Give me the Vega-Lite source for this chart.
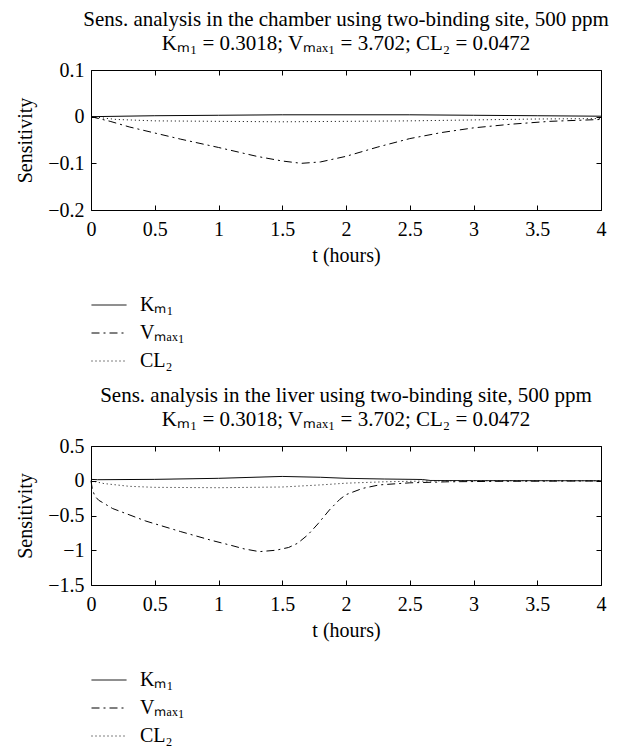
{
  "$schema": "https://vega.github.io/schema/vega-lite/v6.json",
  "padding": {"left": 15, "top": 8, "right": 2, "bottom": 0},
  "background": "white",
  "config": {
    "font": "Liberation Serif",
    "view": {"stroke": "black", "strokeWidth": 1},
    "axis": {"grid": false, "domain": false, "tickColor": "black", "tickSize": -5, "tickWidth": 1, "labelFlush": false, "format": "~g",
      "labelFont": "Liberation Serif", "labelFontSize": 20, "labelColor": "black",
      "titleFont": "Liberation Serif", "titleFontSize": 20, "titleFontWeight": "normal", "titleColor": "black"},
    "title": {"font": "Liberation Serif", "fontSize": 21, "fontWeight": "normal", "color": "black",
      "subtitleFont": "Liberation Serif", "subtitleFontSize": 21, "subtitleColor": "black", "anchor": "middle", "offset": 6, "subtitlePadding": 3},
    "legend": {"symbolType": "stroke", "symbolSize": 1225, "symbolStrokeWidth": 1, "symbolStrokeColor": "black",
      "labelFont": "Liberation Serif", "labelFontSize": 20, "labelColor": "black", "labelOffset": 13, "rowPadding": -1, "title": null,
      "orient": "bottom", "direction": "vertical", "offset": 22}
  },
  "datasets": {
    "chamber": [
      {"p": "Kₘ₁", "t": 0, "s": 0}, {"p": "Kₘ₁", "t": 0.5, "s": 0.002}, {"p": "Kₘ₁", "t": 1, "s": 0.003},
      {"p": "Kₘ₁", "t": 1.5, "s": 0.004}, {"p": "Kₘ₁", "t": 2, "s": 0.004}, {"p": "Kₘ₁", "t": 2.5, "s": 0.004},
      {"p": "Kₘ₁", "t": 3, "s": 0.003}, {"p": "Kₘ₁", "t": 3.5, "s": 0.002}, {"p": "Kₘ₁", "t": 4, "s": 0.001},
      {"p": "Vₘₐₓ₁", "t": 0, "s": 0}, {"p": "Vₘₐₓ₁", "t": 0.15, "s": -0.01}, {"p": "Vₘₐₓ₁", "t": 0.3, "s": -0.022},
      {"p": "Vₘₐₓ₁", "t": 0.5, "s": -0.035}, {"p": "Vₘₐₓ₁", "t": 0.7, "s": -0.048}, {"p": "Vₘₐₓ₁", "t": 1.0, "s": -0.066},
      {"p": "Vₘₐₓ₁", "t": 1.3, "s": -0.085}, {"p": "Vₘₐₓ₁", "t": 1.5, "s": -0.095}, {"p": "Vₘₐₓ₁", "t": 1.65, "s": -0.1},
      {"p": "Vₘₐₓ₁", "t": 1.8, "s": -0.097}, {"p": "Vₘₐₓ₁", "t": 2.0, "s": -0.085}, {"p": "Vₘₐₓ₁", "t": 2.25, "s": -0.065},
      {"p": "Vₘₐₓ₁", "t": 2.5, "s": -0.047}, {"p": "Vₘₐₓ₁", "t": 2.75, "s": -0.034}, {"p": "Vₘₐₓ₁", "t": 3.0, "s": -0.024},
      {"p": "Vₘₐₓ₁", "t": 3.3, "s": -0.016}, {"p": "Vₘₐₓ₁", "t": 3.6, "s": -0.01}, {"p": "Vₘₐₓ₁", "t": 4.0, "s": -0.006},
      {"p": "CL₂", "t": 0, "s": 0}, {"p": "CL₂", "t": 0.2, "s": -0.006}, {"p": "CL₂", "t": 0.5, "s": -0.009},
      {"p": "CL₂", "t": 1, "s": -0.01}, {"p": "CL₂", "t": 1.5, "s": -0.011}, {"p": "CL₂", "t": 2, "s": -0.01},
      {"p": "CL₂", "t": 2.5, "s": -0.009}, {"p": "CL₂", "t": 3, "s": -0.007}, {"p": "CL₂", "t": 3.5, "s": -0.005},
      {"p": "CL₂", "t": 4, "s": -0.004}
    ],
    "liver": [
      {"p": "Kₘ₁", "t": 0, "s": 0.02}, {"p": "Kₘ₁", "t": 0.05, "s": 0.015}, {"p": "Kₘ₁", "t": 0.5, "s": 0.02},
      {"p": "Kₘ₁", "t": 1.0, "s": 0.035}, {"p": "Kₘ₁", "t": 1.5, "s": 0.062}, {"p": "Kₘ₁", "t": 1.8, "s": 0.05},
      {"p": "Kₘ₁", "t": 2.0, "s": 0.035}, {"p": "Kₘ₁", "t": 2.3, "s": 0.025}, {"p": "Kₘ₁", "t": 2.6, "s": 0.018},
      {"p": "Kₘ₁", "t": 2.66, "s": 0.004}, {"p": "Kₘ₁", "t": 3, "s": 0.002}, {"p": "Kₘ₁", "t": 4, "s": 0},
      {"p": "Vₘₐₓ₁", "t": 0, "s": 0}, {"p": "Vₘₐₓ₁", "t": 0.01, "s": -0.12}, {"p": "Vₘₐₓ₁", "t": 0.03, "s": -0.22},
      {"p": "Vₘₐₓ₁", "t": 0.06, "s": -0.28}, {"p": "Vₘₐₓ₁", "t": 0.17, "s": -0.4}, {"p": "Vₘₐₓ₁", "t": 0.43, "s": -0.58},
      {"p": "Vₘₐₓ₁", "t": 0.7, "s": -0.73}, {"p": "Vₘₐₓ₁", "t": 0.95, "s": -0.86}, {"p": "Vₘₐₓ₁", "t": 1.1, "s": -0.93},
      {"p": "Vₘₐₓ₁", "t": 1.2, "s": -0.98}, {"p": "Vₘₐₓ₁", "t": 1.32, "s": -1.02}, {"p": "Vₘₐₓ₁", "t": 1.45, "s": -1.0},
      {"p": "Vₘₐₓ₁", "t": 1.55, "s": -0.96}, {"p": "Vₘₐₓ₁", "t": 1.62, "s": -0.9}, {"p": "Vₘₐₓ₁", "t": 1.7, "s": -0.78},
      {"p": "Vₘₐₓ₁", "t": 1.78, "s": -0.62}, {"p": "Vₘₐₓ₁", "t": 1.87, "s": -0.42}, {"p": "Vₘₐₓ₁", "t": 1.95, "s": -0.27},
      {"p": "Vₘₐₓ₁", "t": 2.0, "s": -0.2}, {"p": "Vₘₐₓ₁", "t": 2.13, "s": -0.11}, {"p": "Vₘₐₓ₁", "t": 2.26, "s": -0.06},
      {"p": "Vₘₐₓ₁", "t": 2.5, "s": -0.03}, {"p": "Vₘₐₓ₁", "t": 2.8, "s": -0.015}, {"p": "Vₘₐₓ₁", "t": 3.2, "s": -0.008},
      {"p": "Vₘₐₓ₁", "t": 4, "s": -0.003},
      {"p": "CL₂", "t": 0, "s": 0}, {"p": "CL₂", "t": 0.1, "s": -0.04}, {"p": "CL₂", "t": 0.3, "s": -0.08},
      {"p": "CL₂", "t": 0.5, "s": -0.095}, {"p": "CL₂", "t": 1.0, "s": -0.1}, {"p": "CL₂", "t": 1.5, "s": -0.09},
      {"p": "CL₂", "t": 1.8, "s": -0.06}, {"p": "CL₂", "t": 2.0, "s": -0.035}, {"p": "CL₂", "t": 2.3, "s": -0.015},
      {"p": "CL₂", "t": 2.6, "s": -0.005}, {"p": "CL₂", "t": 3, "s": 0}, {"p": "CL₂", "t": 4, "s": 0}
    ]
  },
  "spacing": 12,
  "resolve": {"scale": {"strokeDash": "independent"}, "legend": {"strokeDash": "independent"}},
  "vconcat": [
    {
      "width": 510, "height": 140,
      "title": {"text": "Sens. analysis in the chamber using two-binding site, 500 ppm", "subtitle": "Kₘ₁ = 0.3018; Vₘₐₓ₁ = 3.702; CL₂ = 0.0472"},
      "data": {"name": "chamber"},
      "layer": [
        {"mark": {"type": "line", "color": "black", "strokeWidth": 1},
          "encoding": {
            "x": {"field": "t", "type": "quantitative", "scale": {"domain": [0, 4], "nice": false},
              "axis": {"orient": "bottom", "title": "t (hours)", "values": [0, 0.5, 1, 1.5, 2, 2.5, 3, 3.5, 4], "labelPadding": 14, "titlePadding": 6}},
            "y": {"field": "s", "type": "quantitative", "scale": {"domain": [-0.2, 0.1], "nice": false},
              "axis": {"orient": "left", "title": "Sensitivity", "values": [-0.2, -0.1, 0, 0.1], "labelPadding": 12, "titlePadding": 12}},
            "strokeDash": {"field": "p", "type": "nominal",
              "scale": {"domain": ["Kₘ₁", "Vₘₐₓ₁", "CL₂"], "range": [[1, 0], [8, 4, 2, 4], [1, 3]]}}
          }},
        {"mark": {"type": "line", "opacity": 0},
          "encoding": {
            "x": {"field": "t", "type": "quantitative", "axis": {"orient": "top", "labels": false, "title": null, "values": [0, 0.5, 1, 1.5, 2, 2.5, 3, 3.5, 4]}},
            "y": {"field": "s", "type": "quantitative", "axis": {"orient": "right", "labels": false, "title": null, "values": [-0.2, -0.1, 0, 0.1]}}
          }}
      ],
      "resolve": {"axis": {"x": "independent", "y": "independent"}}
    },
    {
      "width": 510, "height": 139,
      "title": {"text": "Sens. analysis in the liver using two-binding site, 500 ppm", "subtitle": "Kₘ₁ = 0.3018; Vₘₐₓ₁ = 3.702; CL₂ = 0.0472"},
      "data": {"name": "liver"},
      "layer": [
        {"mark": {"type": "line", "color": "black", "strokeWidth": 1},
          "encoding": {
            "x": {"field": "t", "type": "quantitative", "scale": {"domain": [0, 4], "nice": false},
              "axis": {"orient": "bottom", "title": "t (hours)", "values": [0, 0.5, 1, 1.5, 2, 2.5, 3, 3.5, 4], "labelPadding": 14, "titlePadding": 6}},
            "y": {"field": "s", "type": "quantitative", "scale": {"domain": [-1.5, 0.5], "nice": false},
              "axis": {"orient": "left", "title": "Sensitivity", "values": [-1.5, -1, -0.5, 0, 0.5], "labelPadding": 12, "titlePadding": 12}},
            "strokeDash": {"field": "p", "type": "nominal",
              "scale": {"domain": ["Kₘ₁", "Vₘₐₓ₁", "CL₂"], "range": [[1, 0], [8, 4, 2, 4], [1, 3]]}}
          }},
        {"mark": {"type": "line", "opacity": 0},
          "encoding": {
            "x": {"field": "t", "type": "quantitative", "axis": {"orient": "top", "labels": false, "title": null, "values": [0, 0.5, 1, 1.5, 2, 2.5, 3, 3.5, 4]}},
            "y": {"field": "s", "type": "quantitative", "axis": {"orient": "right", "labels": false, "title": null, "values": [-1.5, -1, -0.5, 0, 0.5]}}
          }}
      ],
      "resolve": {"axis": {"x": "independent", "y": "independent"}}
    }
  ]
}
